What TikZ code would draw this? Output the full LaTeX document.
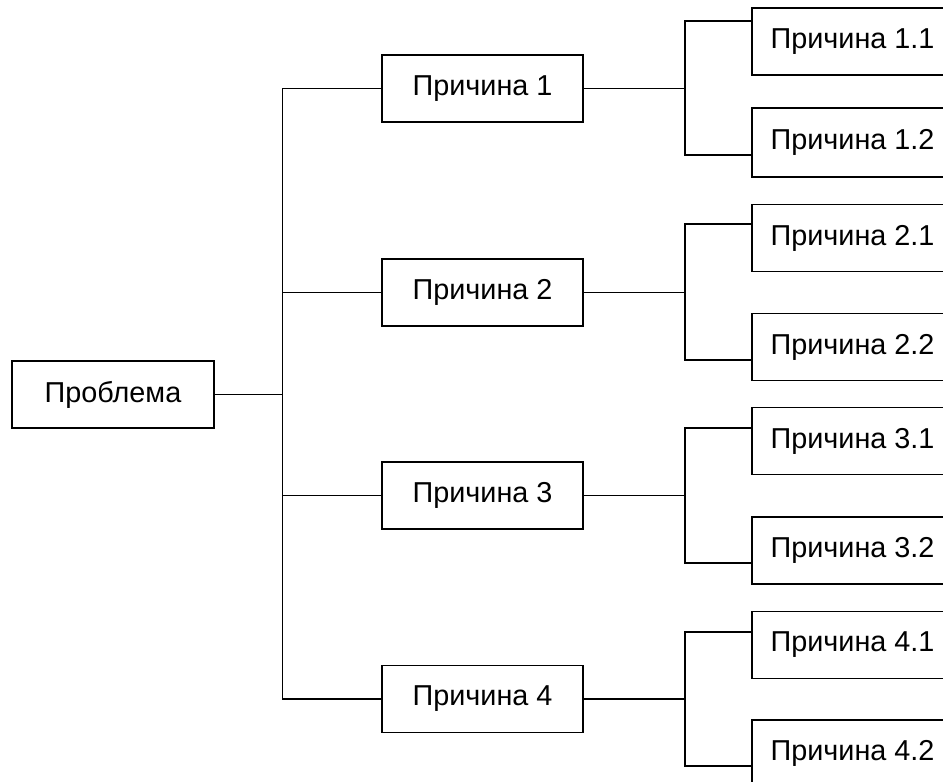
\documentclass[tikz,border=0pt]{standalone}
\usepackage{fontspec}
\setmainfont{Liberation Sans}
\begin{document}
\begin{tikzpicture}[x=1pt,y=-1pt,
  box/.style={draw=black,line width=1.7pt,fill=white,rectangle,inner sep=0pt,
    minimum width=201pt,minimum height=67pt,font=\fontsize{28.8}{34}\selectfont},
  conn/.style={draw=black,line width=1.6pt}]
\useasboundingbox (0,0) rectangle (943,782);
\clip (0,0) rectangle (943,782);
\fill[white] (0,0) rectangle (943,782);
% root
\node[box,minimum width=202pt] (P) at (113,394.5) {Проблема};
% level 1
\node[box] (c1) at (482.5,88.5) {Причина 1};
\node[box] (c2) at (482.5,292.5) {Причина 2};
\node[box] (c3) at (482.5,495.5) {Причина 3};
\node[box] (c4) at (482.5,699) {Причина 4};
% level 2
\node[box] (s11) at (852.5,41.5) {Причина 1.1};
\node[box,minimum height=69pt] (s12) at (852.5,142.5) {Причина 1.2};
\node[box] (s21) at (852.5,238) {Причина 2.1};
\node[box] (s22) at (852.5,347) {Причина 2.2};
\node[box] (s31) at (852.5,441) {Причина 3.1};
\node[box] (s32) at (852.5,550.5) {Причина 3.2};
\node[box] (s41) at (852.5,645) {Причина 4.1};
\node[box] (s42) at (852.5,753.5) {Причина 4.2};
% connectors root -> level 1
\draw[conn] (P.east) -- ++(67.5,0) coordinate (j0);
\draw[conn] (c1.west) -| (j0);
\draw[conn] (c2.west) -| (j0);
\draw[conn] (c3.west) -| (j0);
\draw[conn] (c4.west) -| (j0);
% level 1 -> level 2
\draw[conn] (c1.east) -- ++(101,0) coordinate (j1);
\draw[conn] ([yshift=20.5pt]s11.west) -| (j1);
\draw[conn] ([yshift=-12.5pt]s12.west) -| (j1);
\draw[conn] (c2.east) -- ++(101,0) coordinate (j2);
\draw[conn] ([yshift=14pt]s21.west) -| (j2);
\draw[conn] ([yshift=-13pt]s22.west) -| (j2);
\draw[conn] (c3.east) -- ++(101,0) coordinate (j3);
\draw[conn] ([yshift=13pt]s31.west) -| (j3);
\draw[conn] ([yshift=-12.5pt]s32.west) -| (j3);
\draw[conn] (c4.east) -- ++(101,0) coordinate (j4);
\draw[conn] ([yshift=13pt]s41.west) -| (j4);
\draw[conn] ([yshift=-12.5pt]s42.west) -| (j4);
\end{tikzpicture}
\end{document}
